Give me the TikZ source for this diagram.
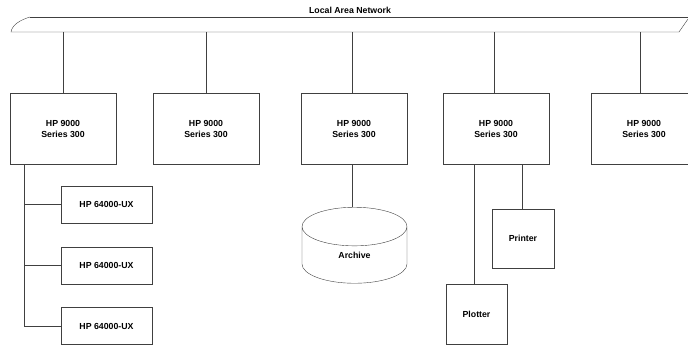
\documentclass[tikz,border=0pt]{standalone}
\usepackage{fontspec}
\setmainfont{Liberation Sans}
\usetikzlibrary{shapes.geometric, positioning, calc}

\begin{document}
\begin{tikzpicture}[x=1bp, y=-1bp, thin, draw=black!75,
    every node/.style={font=\fontsize{8.8}{10.5}\selectfont\bfseries, align=center},
    hpbox/.style={draw, rectangle, minimum width=106bp, minimum height=71bp, inner sep=0pt},
    uxbox/.style={draw, rectangle, minimum width=91bp, minimum height=37bp, inner sep=0pt},
    devbox/.style={draw, rectangle, minimum width=61bp, minimum height=60bp, inner sep=0pt},
    disk/.style={draw, cylinder, shape border rotate=90, aspect=1.2,
                 minimum width=105bp, minimum height=76bp, inner sep=0pt}]
      \useasboundingbox (0,0) rectangle (688,346);
      \clip (0,0) rectangle (688,346);

      % network bus
      \node (lanlabel) at (350,10) {Local Area Network};
      \draw[black!75] (30,17) -- (688,17);
      \draw[black!75] (30,17) .. controls (20,20) and (12,25) .. (11,32) -- (679,32) -- (688,19);
      \coordinate (lan) at (0,32);

      % workstations
      \node[hpbox] (hp1) at (63,129) {HP 9000\\Series 300};
      \node[hpbox] (hp2) at (206,129) {HP 9000\\Series 300};
      \node[hpbox] (hp3) at (354,129) {HP 9000\\Series 300};
      \node[hpbox] (hp4) at (496,129) {HP 9000\\Series 300};
      \node[hpbox] (hp5) at (644,129) {HP 9000\\Series 300};
      \draw (hp1) -- (hp1 |- lan);
      \draw (hp2) -- (hp2 |- lan);
      \draw ([xshift=-2bp]hp3.north) -- ([xshift=-2bp]hp3.north |- lan);
      \draw ([xshift=-2bp]hp4.north) -- ([xshift=-2bp]hp4.north |- lan);
      \draw ([xshift=-4bp]hp5.north) -- ([xshift=-4bp]hp5.north |- lan);

      % development stations
      \node[uxbox] (ux1) at (106.5,204.5) {HP 64000-UX};
      \node[uxbox] (ux2) at (106.5,265.5) {HP 64000-UX};
      \node[uxbox] (ux3) at (106.5,326) {HP 64000-UX};
      \coordinate (bus) at (24,165);
      \draw (bus) |- (ux3.west);
      \draw (ux1.west) -- (ux1.west -| bus);
      \draw (ux2.west) -- (ux2.west -| bus);

      % peripherals
      \node[disk] (archive) at (354.5,255) {Archive};
      \node[devbox, minimum height=59bp, minimum width=62bp] (printer) at (523,238.5) {Printer};
      \node[devbox] (plotter) at (476.5,314) {Plotter};
      \draw ([xshift=-2bp]archive.north) -- ([xshift=-2bp]archive.north |- hp3.south);
      \draw ([xshift=-1bp]printer.north) -- ([xshift=-1bp]printer.north |- hp4.south);
      \draw ([xshift=-2.5bp]plotter.north) -- ([xshift=-2.5bp]plotter.north |- hp4.south);
    \end{tikzpicture}
\end{document}
